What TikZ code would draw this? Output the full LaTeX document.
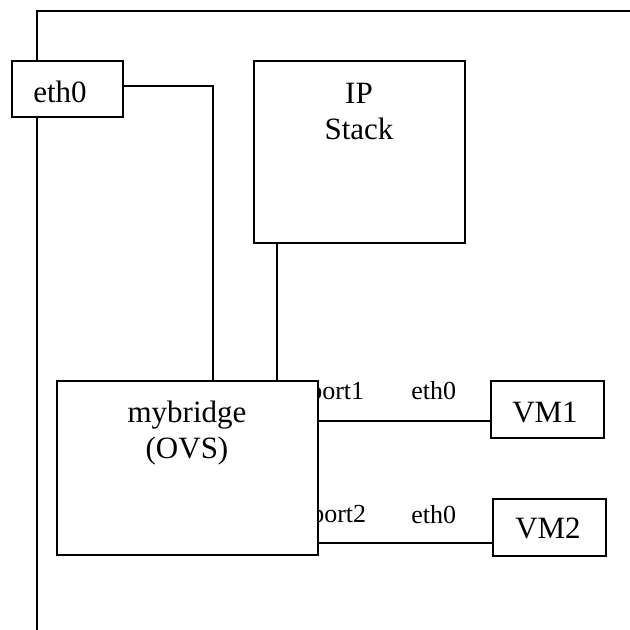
\documentclass[tikz,border=0pt]{standalone}
\usepackage{fontspec}
\setmainfont{Liberation Serif}
\begin{document}
\begin{tikzpicture}[x=1pt,y=-1pt,line width=1.7pt,
  box/.style={draw,fill=white,rectangle,inner sep=0pt},
  big/.style={font=\fontsize{31}{36}\selectfont,inner sep=0pt,anchor=base},
  small/.style={font=\fontsize{26}{30}\selectfont,inner sep=0pt,anchor=base east}]
\useasboundingbox (0,0) rectangle (630,630);

% host frame
\draw (37,630) -- (37,11) -- (630,11);

% port labels (partly hidden behind the bridge box)
\node[small] (p1lbl) at (365,399) {port1};
\node[small] (p2lbl) at (367,522) {port2};
\node[small] (v1lbl) at (457,399) {eth0};
\node[small] (v2lbl) at (457,523) {eth0};

% boxes
\node[box,minimum width=261pt,minimum height=174pt] (bridge) at (187.5,468) {};
\node[box,minimum width=111pt,minimum height=56pt] (eth0) at (67.5,89) {};
\node[box,minimum width=211pt,minimum height=182pt] (ipstack) at (359.5,152) {};
\node[box,minimum width=113pt,minimum height=57pt] (vm1) at (547.5,409.5) {};
\node[box,minimum width=113pt,minimum height=57pt] (vm2) at (549.5,527.5) {};

% links
\draw ([yshift=3pt]eth0.east) -| ([xshift=25.5pt]bridge.north);
\coordinate (ipdown) at ([xshift=-82.5pt]ipstack.south);
\draw (ipdown) -- (ipdown |- bridge.north);
\coordinate (l1) at ([yshift=-11.5pt]vm1.west);
\draw (l1) -- (l1 -| bridge.east);
\coordinate (l2) at ([yshift=-15.5pt]vm2.west);
\draw (l2) -- (l2 -| bridge.east);

% box texts
\node[big] (t0) at (60,102) {eth0};
\node[big] (t1) at (359,103) {IP};
\node[big] (t2) at (359,139) {Stack};
\node[big] (t3) at (187,422) {mybridge};
\node[big] (t4) at (187,458) {(OVS)};
\node[big] (t5) at (545,422) {VM1};
\node[big] (t6) at (548,538) {VM2};
\end{tikzpicture}
\end{document}
